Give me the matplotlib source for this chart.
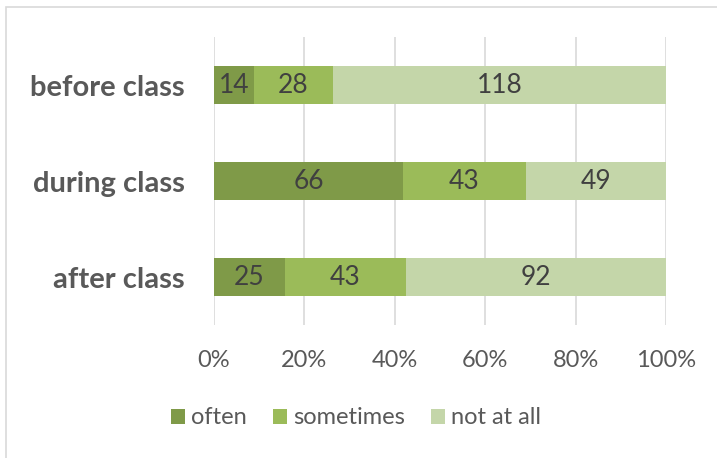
import matplotlib
matplotlib.use('Agg')
import matplotlib.pyplot as plt
from matplotlib.patches import Rectangle
import numpy as np

categories = ['before class', 'during class', 'after class']
often = [14, 66, 25]
sometimes = [28, 43, 43]
not_at_all = [118, 49, 92]
series_names = ['often', 'sometimes', 'not at all']
colors = ['#7F9A48', '#9BBB59', '#C4D6A9']
tick_labels = ['0%', '20%', '40%', '60%', '80%', '100%']

plt.rcParams['font.family'] = ['Lato', 'DejaVu Sans']

fig = plt.figure(figsize=(7.17, 4.58), dpi=100)
fig.patches.append(Rectangle((6 / 717, -0.1), 1.0, 1 - 7 / 458 + 0.1, transform=fig.transFigure,
                             fill=False, edgecolor='#D9D9D9', linewidth=1.2))
ax = fig.add_axes([214 / 717, 1 - 325 / 458, 452 / 717, 288 / 458])

data = np.array([often, sometimes, not_at_all], dtype=float)
totals = data.sum(axis=0)
shares = data / totals * 100
y = np.arange(len(categories))

left = np.zeros(len(categories))
for i, name in enumerate(series_names):
    bars = ax.barh(y, shares[i], left=left, height=0.4, color=colors[i], label=name, zorder=3)
    for j, b in enumerate(bars):
        ax.text(left[j] + shares[i][j] / 2, y[j], str(int(data[i][j])), ha='center', va='center',
                fontsize=19, color='#404040', zorder=4)
    left += shares[i]

ax.set_ylim(len(categories) - 0.5, -0.5)
ax.set_xlim(0, 100)
ax.set_xticks(np.linspace(0, 100, 6))
ax.set_xticklabels(tick_labels, fontsize=17, color='#595959')
ax.set_yticks(y)
ax.set_yticklabels(categories, fontsize=21, fontweight='bold', color='#595959')
ax.tick_params(axis='both', length=0)
ax.tick_params(axis='x', pad=18)
ax.tick_params(axis='y', pad=21)
ax.grid(axis='x', color='#D9D9D9', linewidth=1.2, zorder=0)
for s in ax.spines.values():
    s.set_visible(False)

leg = fig.legend(loc='center', bbox_to_anchor=(356 / 717, 1 - 418 / 458), ncol=3, frameon=False,
                 fontsize=17, handlelength=0.6, handleheight=0.6, handletextpad=0.25, columnspacing=1.1)
for t in leg.get_texts():
    t.set_color('#595959')

fig.savefig('out.png', dpi=100)
